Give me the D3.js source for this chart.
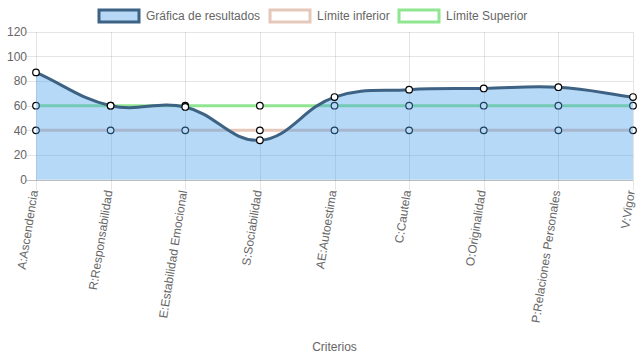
<!DOCTYPE html>
<html>
<head>
<meta charset="utf-8">
<script src="https://cdn.jsdelivr.net/npm/d3@7"></script>
<style>
  html, body { margin: 0; padding: 0; background: #fff; }
  svg { display: block; font-family: "Liberation Sans", Arial, Helvetica, sans-serif; }
</style>
</head>
<body>
<svg id="chart" width="637" height="359"></svg>
<script>
const categories = ["A:Ascendencia", "R:Responsabilidad", "E:Estabilidad Emocional", "S:Sociabilidad",
  "AE:Autoestima", "C:Cautela", "O:Originalidad", "P:Relaciones Personales", "V:Vigor"];
const resultados = [87, 60, 59, 32, 67, 73, 74, 75, 67];
const limiteInferior = [40, 40, 40, 40, 40, 40, 40, 40, 40];
const limiteSuperior = [60, 60, 60, 60, 60, 60, 60, 60, 60];
const yTicks = [0, 20, 40, 60, 80, 100, 120];
const seriesNames = ["Gráfica de resultados", "Límite inferior", "Límite Superior"];
const xTitle = "Criterios";

const svg = d3.select("#chart");
const x = d3.scalePoint().domain(categories).range([36, 633]);
const y = d3.scaleLinear().domain([0, 120]).range([179.7, 31.7]);
const crisp = v => Math.round(v) + 0.5;

const textColor = "#666";
const fontSize = 12;

// grid
const grid = svg.append("g");
yTicks.forEach(t => {
  grid.append("line")
    .attr("x1", 26).attr("x2", 633)
    .attr("y1", crisp(y(t))).attr("y2", crisp(y(t)))
    .attr("stroke", t === 0 ? "rgba(0,0,0,0.25)" : "rgba(0,0,0,0.1)")
    .attr("stroke-width", 1);
});
categories.forEach((c, i) => {
  grid.append("line")
    .attr("x1", crisp(x(c))).attr("x2", crisp(x(c)))
    .attr("y1", y(120)).attr("y2", 190)
    .attr("stroke", "rgba(0,0,0,0.1)")
    .attr("stroke-width", 1);
});

// y tick labels
svg.append("g").selectAll("text").data(yTicks).join("text")
  .attr("x", 27).attr("y", d => y(d))
  .attr("dy", "0.35em")
  .attr("text-anchor", "end")
  .attr("font-size", fontSize)
  .attr("fill", textColor)
  .text(d => d);

// x tick labels (rotated)
svg.append("g").selectAll("text").data(categories).join("text")
  .attr("transform", d => `translate(${x(d) + 2},${191}) rotate(-81)`)
  .attr("text-anchor", "end")
  .attr("font-size", fontSize)
  .attr("fill", textColor)
  .text(d => d);

// axis title
svg.append("text")
  .attr("x", (x.range()[0] + x.range()[1]) / 2)
  .attr("y", 351)
  .attr("text-anchor", "middle")
  .attr("font-size", fontSize)
  .attr("fill", textColor)
  .text(xTitle);

// Chart.js-like spline control points
function splinePath(pts, tension) {
  const n = pts.length;
  const cps = pts.map((p, i) => {
    const prev = pts[Math.max(0, i - 1)], next = pts[Math.min(n - 1, i + 1)];
    const d01 = Math.hypot(p[0] - prev[0], p[1] - prev[1]);
    const d12 = Math.hypot(next[0] - p[0], next[1] - p[1]);
    let s01 = d01 / (d01 + d12), s12 = d12 / (d01 + d12);
    if (isNaN(s01)) s01 = 0; if (isNaN(s12)) s12 = 0;
    const fa = tension * s01, fb = tension * s12;
    return {
      prev: [p[0] - fa * (next[0] - prev[0]), p[1] - fa * (next[1] - prev[1])],
      next: [p[0] + fb * (next[0] - prev[0]), p[1] + fb * (next[1] - prev[1])]
    };
  });
  const path = d3.path();
  path.moveTo(pts[0][0], pts[0][1]);
  for (let i = 1; i < n; i++) {
    path.bezierCurveTo(cps[i - 1].next[0], cps[i - 1].next[1], cps[i].prev[0], cps[i].prev[1], pts[i][0], pts[i][1]);
  }
  return path.toString();
}

const series = [
  { name: seriesNames[2], values: limiteSuperior, color: "#90e690", fill: null, width: 3 },
  { name: seriesNames[1], values: limiteInferior, color: "#e6c8bb", fill: null, width: 3 },
  { name: seriesNames[0], values: resultados, color: "#3d6283", fill: "rgba(72,160,235,0.4)", width: 3 }
];

const plot = svg.append("g");
series.forEach(s => {
  const pts = s.values.map((v, i) => [x(categories[i]), y(v)]);
  const d = splinePath(pts, 0.4);
  if (s.fill) {
    plot.append("path")
      .attr("d", d + `L${pts[pts.length - 1][0]},${y(0)}L${pts[0][0]},${y(0)}Z`)
      .attr("fill", s.fill).attr("stroke", "none");
  }
  plot.append("path")
    .attr("d", d)
    .attr("fill", "none")
    .attr("stroke", s.color)
    .attr("stroke-width", s.width);
  plot.append("g").selectAll("circle").data(pts).join("circle")
    .attr("cx", p => p[0]).attr("cy", p => p[1])
    .attr("r", 3.3)
    .attr("fill", "#fff")
    .attr("stroke", "#000")
    .attr("stroke-width", 1.2);
});

// legend
const legendItems = [
  { name: seriesNames[0], stroke: "#3d6283", fill: "#b6d7f6", bx: 99 },
  { name: seriesNames[1], stroke: "#e6c8bb", fill: "#fff", bx: 270 },
  { name: seriesNames[2], stroke: "#90e690", fill: "#fff", bx: 399 }
];
const lg = svg.append("g");
legendItems.forEach(it => {
  lg.append("rect")
    .attr("x", it.bx).attr("y", 10)
    .attr("width", 40).attr("height", 12)
    .attr("fill", it.fill).attr("stroke", it.stroke).attr("stroke-width", 3);
  lg.append("text")
    .attr("x", it.bx + 47).attr("y", 16)
    .attr("dy", "0.35em")
    .attr("font-size", fontSize)
    .attr("fill", textColor)
    .text(it.name);
});
</script>
</body>
</html>
